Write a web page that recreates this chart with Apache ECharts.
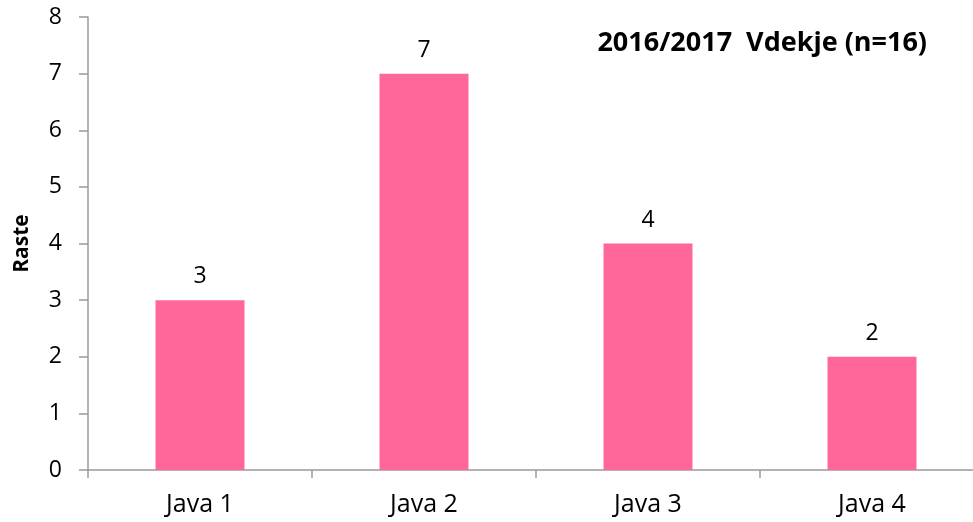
<!DOCTYPE html>
<html>
<head>
<meta charset="utf-8">
<script src="https://cdn.jsdelivr.net/npm/echarts@6/dist/echarts.min.js"></script>
<style>
  html, body { margin: 0; padding: 0; background: #fff; }
  #chart { width: 973px; height: 522px; }
</style>
</head>
<body>
<div id="chart"></div>
<script>
const categories = ['Java 1', 'Java 2', 'Java 3', 'Java 4'];
const counts = [3, 7, 4, 2];
const yTicks = [0, 1, 2, 3, 4, 5, 6, 7, 8];

const barColor = '#FF6699';
const axisColor = '#9a9a9a';
const font = "'Open Sans', 'Liberation Sans', sans-serif";

var myChart = echarts.init(document.getElementById('chart'));
var option = {
    animation: false,
    title: {
        text: '2016/2017  Vdekje (n=16)',
        right: 41,
        top: 25,
        textStyle: {
            fontFamily: font,
            fontSize: 27,
            fontWeight: 'bold',
            color: '#000'
        }
    },
    grid: {
        left: 88,
        right: -11,
        top: 17,
        bottom: 52,
        outerBoundsMode: 'none'
    },
    xAxis: {
        type: 'category',
        data: categories,
        axisLine: { lineStyle: { color: axisColor, width: 1.5 } },
        axisTick: { show: true, length: 8, alignWithLabel: false, lineStyle: { color: axisColor, width: 1.5 } },
        axisLabel: { color: '#000', fontSize: 25, fontFamily: font, margin: 22 }
    },
    yAxis: {
        type: 'value',
        min: yTicks[0],
        max: yTicks[yTicks.length - 1],
        interval: 1,
        name: 'Raste',
        nameLocation: 'middle',
        nameGap: 55,
        nameTextStyle: { fontFamily: font, fontSize: 21, fontWeight: 'bold', color: '#000' },
        axisLine: { show: true, lineStyle: { color: axisColor, width: 1.5 } },
        axisTick: { show: true, length: 9, lineStyle: { color: axisColor, width: 1.5 } },
        axisLabel: { color: '#000', fontSize: 23, fontFamily: font, margin: 26 },
        splitLine: { show: false }
    },
    series: [
        {
            type: 'bar',
            data: counts,
            barWidth: 89,
            itemStyle: { color: barColor },
            label: {
                show: true,
                position: 'top',
                distance: 12,
                color: '#000',
                fontSize: 23,
                fontFamily: font
            }
        }
    ]
};
myChart.setOption(option);
</script>
</body>
</html>
